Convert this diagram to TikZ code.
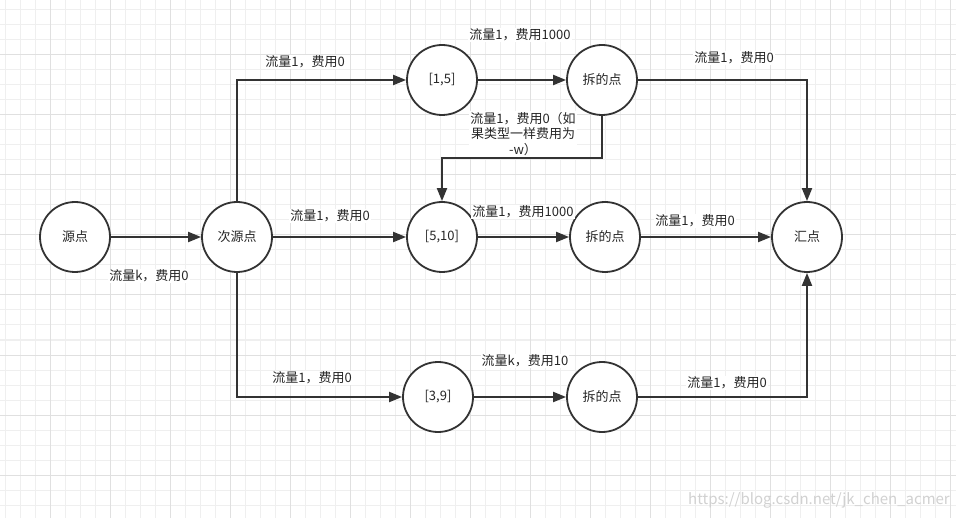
\documentclass[tikz,border=0pt]{standalone}
\usepackage{fontspec}
\setmainfont{Noto Sans CJK SC}
\usetikzlibrary{arrows.meta}
\definecolor{linegray}{HTML}{333333}
\definecolor{minorline}{HTML}{EFEFEF}
\definecolor{majorline}{HTML}{E0E0E0}
\begin{document}
\begin{tikzpicture}[x=1bp,y=-1bp,
    pt/.style={draw=linegray,line width=1.8bp,circle,minimum size=70bp,inner sep=0pt,fill=white,text=black!85,font=\fontsize{13bp}{15bp}\selectfont},
    arr/.style={draw=linegray,line width=2bp,-{Triangle[length=13bp,width=10bp]}},
    lbl/.style={fill=white,inner sep=1bp,text=black!85,font=\fontsize{13bp}{15.5bp}\selectfont}]
    \useasboundingbox[fill=white] (0,0) rectangle (956,518);
    \foreach \gx in {5,20,...,950} \draw[minorline,line width=1bp] (\gx,0) -- (\gx,518);
    \foreach \gy in {10,25,...,515} \draw[minorline,line width=1bp] (0,\gy) -- (956,\gy);
    \foreach \gx in {50,110,...,950} \draw[majorline,line width=1bp] (\gx,0) -- (\gx,518);
    \foreach \gy in {55,115,...,515} \draw[majorline,line width=1bp] (0,\gy) -- (956,\gy);
    \node[pt] (src) at (75,237) {源点};
    \node[pt] (sub) at (237,237) {次源点};
    \node[pt] (r15) at (442,80) {[1,5]};
    \node[pt] (c1) at (602,80) {拆的点};
    \node[pt] (r510) at (442,237) {[5,10]};
    \node[pt] (c2) at (605,237) {拆的点};
    \node[pt] (r39) at (438,397) {[3,9]};
    \node[pt] (c3) at (602,397) {拆的点};
    \node[pt] (sink) at (807,237) {汇点};
    \draw[arr] (src) -- (sub);
    \draw[arr] (sub.north) |- (r15);
    \draw[arr] (sub) -- (r510);
    \draw[arr] (sub.south) |- (r39);
    \draw[arr] (r15) -- (c1);
    \draw[arr] (c1) -| (sink);
    \draw[arr] (c1.south) -- ++(0,42) -| (r510);
    \draw[arr] (r510) -- (c2);
    \draw[arr] (c2) -- (sink);
    \draw[arr] (r39) -- (c3);
    \draw[arr] (c3) -| (sink);
    \node[lbl] (l1) at (149,276) {流量k，费用0};
    \node[lbl] (l2) at (305,62) {流量1，费用0};
    \node[lbl] (l3) at (330,216) {流量1，费用0};
    \node[lbl] (l4) at (312,378) {流量1，费用0};
    \node[lbl] (l5) at (520,35) {流量1，费用1000};
    \node[lbl,align=center] (l6) at (523,134) {流量1，费用0（如\\果类型一样费用为\\-w）};
    \node[lbl] (l7) at (523,212) {流量1，费用1000};
    \node[lbl] (l8) at (525,361) {流量k，费用10};
    \node[lbl] (l9) at (734,58) {流量1，费用0};
    \node[lbl] (l10) at (695,221) {流量1，费用0};
    \node[lbl] (l11) at (727,383) {流量1，费用0};
    \node[text=black!18,font=\fontsize{15bp}{17bp}\selectfont] (wm) at (819,500) {https://blog.csdn.net/jk\_chen\_acmer};
\end{tikzpicture}
\end{document}
